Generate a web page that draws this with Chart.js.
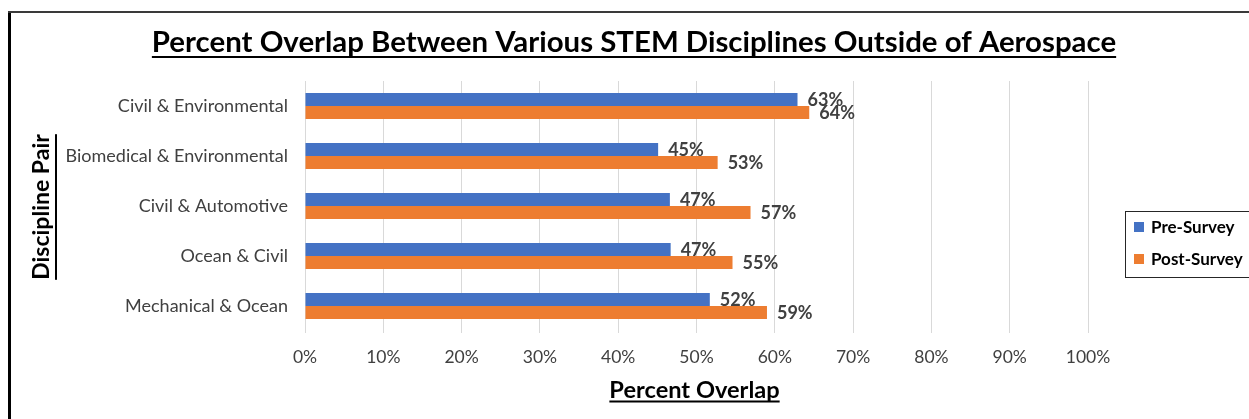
<!DOCTYPE html>
<html>
<head>
<meta charset="utf-8">
<script src="https://cdn.jsdelivr.net/npm/chart.js@4.4.1/dist/chart.umd.min.js"></script>
<style>
html,body{margin:0;padding:0;background:#fff;overflow:hidden}
#wrap{width:1249px;height:419px;position:relative}
</style>
</head>
<body>
<div id="wrap"><canvas id="c" width="1249" height="419"></canvas></div>
<script>
// ---- data ----
const categories = ['Civil & Environmental', 'Biomedical & Environmental', 'Civil & Automotive', 'Ocean & Civil', 'Mechanical & Ocean'];
const seriesNames = ['Pre-Survey', 'Post-Survey'];
const preSurvey = [62.9, 45.1, 46.6, 46.7, 51.7];
const postSurvey = [64.4, 52.7, 56.9, 54.6, 59.0];
const xTickValues = [0, 10, 20, 30, 40, 50, 60, 70, 80, 90, 100];
const chartTitle = 'Percent Overlap Between Various STEM Disciplines Outside of Aerospace';
const xAxisTitle = 'Percent Overlap';
const yAxisTitle = 'Discipline Pair';

// ---- style ----
const FONT = "Lato, 'Open Sans', 'DejaVu Sans', sans-serif";
const COLORS = ['#4472C4', '#ED7D31'];
const TEXT = '#404040';

const framePlugin = {
  id: 'frame',
  beforeDraw(chart) {
    const c = chart.ctx;
    c.save();
    c.fillStyle = '#fff';
    c.fillRect(0, 0, chart.width, chart.height);
    c.fillStyle = '#000';
    c.fillRect(8, 11, 3, chart.height - 11);
    c.fillStyle = '#3a3a3a';
    c.fillRect(8, 11, chart.width - 8, 2);
    c.restore();
  }
};

function underlinedText(ctx, text, x, y, font, color, ulOff, ulW) {
  ctx.font = font;
  ctx.fillStyle = color;
  ctx.textAlign = 'center';
  ctx.textBaseline = 'alphabetic';
  ctx.fillText(text, x, y);
  const w = ctx.measureText(text).width;
  ctx.fillRect(x - w / 2, y + ulOff, w, ulW);
}

const titlesPlugin = {
  id: 'titles',
  afterDraw(chart) {
    const ctx = chart.ctx;
    const a = chart.chartArea;
    ctx.save();
    underlinedText(ctx, chartTitle, 634, 52, 'bold 29.4px ' + FONT, '#000', 4, 2);
    underlinedText(ctx, xAxisTitle, (a.left + a.right) / 2 - 2, 397.5, 'bold 23.6px ' + FONT, '#000', 3, 2);
    ctx.translate(49, (a.top + a.bottom) / 2 + 1);
    ctx.rotate(-Math.PI / 2);
    underlinedText(ctx, yAxisTitle, 0, 0, 'bold 23px ' + FONT, '#000', 6, 2);
    ctx.restore();
  }
};

const valueLabelPlugin = {
  id: 'valueLabels',
  afterDatasetsDraw(chart) {
    const ctx = chart.ctx;
    ctx.save();
    ctx.font = 'bold 18px ' + FONT;
    ctx.fillStyle = TEXT;
    ctx.textAlign = 'left';
    ctx.textBaseline = 'middle';
    chart.data.datasets.forEach((ds, i) => {
      const meta = chart.getDatasetMeta(i);
      meta.data.forEach((el, j) => {
        ctx.fillText(Math.round(ds.data[j]) + '%', el.x + 10, el.y + 1);
      });
    });
    ctx.restore();
  }
};

const legendPlugin = {
  id: 'boxLegend',
  afterDraw(chart) {
    const ctx = chart.ctx;
    ctx.save();
    ctx.strokeStyle = '#262626';
    ctx.lineWidth = 1;
    ctx.strokeRect(1125.5, 211.5, 200, 66);
    ctx.font = 'bold 17px ' + FONT;
    ctx.textAlign = 'left';
    ctx.textBaseline = 'middle';
    chart.data.datasets.forEach((ds, i) => {
      const y = 227 + i * 32;
      ctx.fillStyle = ds.backgroundColor;
      ctx.fillRect(1134, y - 5, 10, 10);
      ctx.fillStyle = '#000';
      ctx.fillText(ds.label, 1151, y + 1);
    });
    ctx.restore();
  }
};

new Chart(document.getElementById('c'), {
  type: 'bar',
  data: {
    labels: categories,
    datasets: [
      { label: seriesNames[0], data: preSurvey, backgroundColor: COLORS[0], borderWidth: 0 },
      { label: seriesNames[1], data: postSurvey, backgroundColor: COLORS[1], borderWidth: 0 }
    ]
  },
  options: {
    indexAxis: 'y',
    responsive: false,
    animation: false,
    devicePixelRatio: 1,
    datasets: { bar: { categoryPercentage: 0.52, barPercentage: 1.0 } },
    layout: { padding: { top: 81, right: 161, left: 0, bottom: 0 } },
    plugins: { legend: { display: false }, tooltip: { enabled: false }, title: { display: false } },
    scales: {
      x: {
        type: 'linear',
        min: xTickValues[0],
        max: xTickValues[xTickValues.length - 1],
        afterBuildTicks(scale) { scale.ticks = xTickValues.map(v => ({ value: v })); },
        afterFit(scale) { scale.height = 88; },
        ticks: {
          callback: v => v + '%',
          font: { family: FONT, size: 17.5 },
          color: TEXT,
          padding: 14,
          maxRotation: 0
        },
        grid: { color: '#d9d9d9', lineWidth: 1, drawTicks: true, tickLength: 2 },
        border: { display: false }
      },
      y: {
        type: 'category',
        afterFit(scale) { scale.width = 305; },
        ticks: { font: { family: FONT, size: 18 }, color: TEXT, padding: 17 },
        grid: { display: false, drawTicks: false },
        border: { display: false }
      }
    }
  },
  plugins: [framePlugin, valueLabelPlugin, titlesPlugin, legendPlugin]
});
</script>
</body>
</html>
